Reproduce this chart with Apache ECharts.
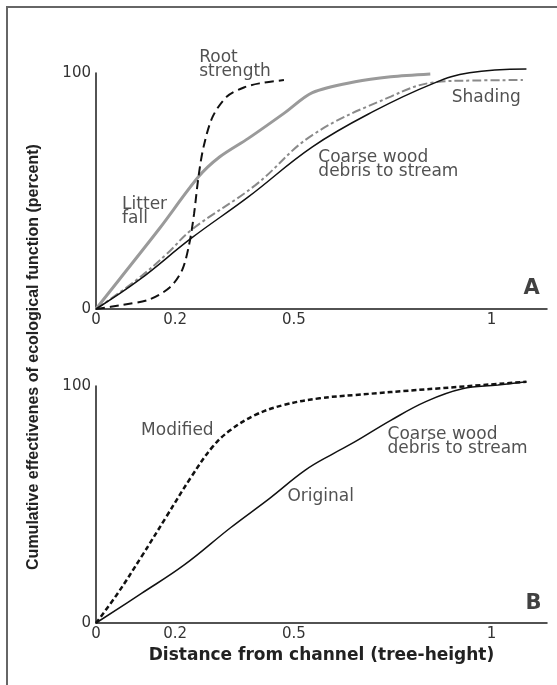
<!DOCTYPE html>
<html>
<head>
<meta charset="utf-8">
<script src="https://cdn.jsdelivr.net/npm/echarts@6/dist/echarts.min.js"></script>
<style>
html,body{margin:0;padding:0;background:#fff;}
#wrap{position:relative;width:557px;height:685px;overflow:hidden;}
#frame{position:absolute;left:6px;top:6px;width:600px;height:700px;border-left:2px solid #666;border-top:2px solid #666;}
#chart{position:absolute;left:0;top:0;width:557px;height:685px;}
</style>
</head>
<body>
<div id="wrap"><div id="frame"></div><div id="chart"></div></div>
<script>
// ---- data (x in tree-heights, y in percent) ----
const xTickValues = [0, 0.2, 0.5, 1];
const xTickLabels = ['0', '0.2', '0.5', '1'];
const yTickValues = [0, 100];

// Panel A
const rootStrength = [[0,0],[0.066,1.7],[0.134,4],[0.187,9.2],[0.218,16.6],[0.236,27.8],[0.248,40.5],[0.259,56],[0.272,68.8],[0.295,81.5],[0.331,90],[0.376,94],[0.413,95.6],[0.475,97]];
const litterFall = [[0,0],[0.058,12.3],[0.16,34],[0.259,56],[0.313,64.5],[0.385,72.3],[0.475,82.9],[0.547,91.7],[0.655,96.3],[0.745,98.4],[0.845,99.6]];
const shading = [[0,0],[0.1,12],[0.18,23.5],[0.241,33.5],[0.403,52.5],[0.547,73.7],[0.745,90],[0.853,96],[0.95,96.8],[1.079,97]];
const woodA = [[0,0],[0.109,12.3],[0.241,30],[0.385,47.5],[0.547,68.7],[0.70,83.6],[0.853,95.6],[0.944,100.1],[1.088,101.7]];

// Panel B
const original = [[0,0],[0.115,12.5],[0.223,24.5],[0.34,40.2],[0.439,52.6],[0.529,64.5],[0.6,71.5],[0.655,76.5],[0.745,85.5],[0.835,93.5],[0.926,98.8],[1.016,100.4],[1.088,101.8]];
const modified = [[0,0],[0.052,11.8],[0.115,28],[0.178,44.9],[0.241,61.7],[0.295,74.4],[0.34,81.4],[0.403,87.8],[0.475,92],[0.565,94.8],[0.655,96.2],[0.835,98.6],[1.088,101.8]];

// annotations (text anchored at data coordinates)
const notesA = [
  {name:'Root\nstrength', value:[0.261,103.6]},
  {name:'Litter\nfall', value:[0.066,41.1]},
  {name:'Shading', value:[0.899,89.4]},
  {name:'Coarse wood\ndebris to stream', value:[0.562,61]}
];
const notesB = [
  {name:'Modified', value:[0.114,81.4]},
  {name:'Coarse wood\ndebris to stream', value:[0.737,76.6]},
  {name:'Original', value:[0.484,53.2]}
];
const panelLetters = [
  {name:'A', value:[1.101,8.5], panel:0},
  {name:'B', value:[1.106,8.4], panel:1}
];

const chart = echarts.init(document.getElementById('chart'), null, {renderer:'canvas'});
const FONT = 'DejaVu Sans';

function xAxis(idx, withName){
  const ax = {
    type:'value', gridIndex:idx, min:0, max:1.14,
    axisLine:{show:true, onZero:false, lineStyle:{color:'#1a1a1a', width:1.5}},
    axisTick:{show:false},
    splitLine:{show:false},
    axisLabel:{customValues:xTickValues, formatter:(v)=>{const i=xTickValues.indexOf(v);return i>=0?xTickLabels[i]:'';}, color:'#333', fontFamily:FONT, fontSize:15, margin:4}
  };
  if(withName){
    ax.name='Distance from channel (tree-height)';
    ax.nameLocation='middle';
    ax.nameGap=24;
    ax.nameTextStyle={fontFamily:FONT, fontWeight:'bold', fontSize:17, color:'#222'};
  }
  return ax;
}
function yAxis(idx){
  return {
    type:'value', gridIndex:idx, min:0, max:100,
    axisLine:{show:true, lineStyle:{color:'#1a1a1a', width:1.5}},
    axisTick:{show:false},
    splitLine:{show:false},
    axisLabel:{customValues:yTickValues, color:'#333', fontFamily:FONT, fontSize:15, margin:5}
  };
}
function line(data, idx, style, sm){
  return {type:'line', xAxisIndex:idx, yAxisIndex:idx, data:data, showSymbol:false, symbol:'none',
    smooth:sm, clip:false, lineStyle:style, z:2, animation:false};
}
function notes(data, idx){
  return {type:'scatter', xAxisIndex:idx, yAxisIndex:idx, data:data, symbolSize:0, clip:false, z:5, silent:true, animation:false,
    label:{show:true, formatter:'{b}', position:'right', distance:0, align:'left', verticalAlign:'middle',
      fontFamily:FONT, fontSize:17, lineHeight:14, color:'#262626'}};
}
function letter(item){
  return {type:'scatter', xAxisIndex:item.panel, yAxisIndex:item.panel, data:[item], symbolSize:0, clip:false, z:5, silent:true, animation:false,
    label:{show:true, formatter:'{b}', position:'inside', align:'center', verticalAlign:'middle',
      fontFamily:FONT, fontSize:21, fontWeight:'bold', color:'#111'}};
}

chart.setOption({
  backgroundColor:'transparent',
  animation:false,
  grid:[
    {left:96, top:73, width:451, height:236},
    {left:96, top:386, width:451, height:237}
  ],
  xAxis:[xAxis(0,false), xAxis(1,true)],
  yAxis:[yAxis(0), yAxis(1)],
  graphic:[{
    type:'text', x:34, y:357, rotation:Math.PI/2,
    style:{text:'Cumulative effectivenes of ecological function (percent)', font:'bold 16px "Liberation Sans", Arial, sans-serif', fill:'#222', align:'center', verticalAlign:'middle'}
  }],
  series:[
    line(litterFall, 0, {color:'#9a9a9a', width:3}, 0.3),
    line(shading, 0, {color:'#8a8a8a', width:2, type:[9,3,3,3]}, 0.4),
    line(woodA, 0, {color:'#111', width:1.5}, 0.4),
    line(rootStrength, 0, {color:'#111', width:2, type:[9,5]}, 0.3),
    line(original, 1, {color:'#111', width:1.5}, 0.4),
    line(modified, 1, {color:'#111', width:2.5, type:[5,3]}, 0.4),
    notes(notesA, 0),
    notes(notesB, 1),
    letter(panelLetters[0]),
    letter(panelLetters[1])
  ]
});
</script>
</body>
</html>
